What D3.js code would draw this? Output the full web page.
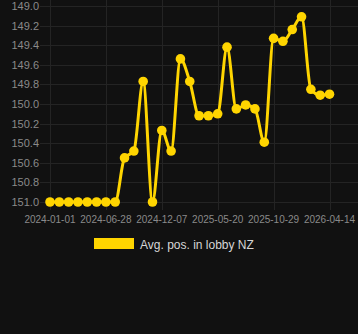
<!DOCTYPE html>
<html>
<head>
<meta charset="utf-8">
<script src="https://cdn.jsdelivr.net/npm/d3@7"></script>
<style>
  html, body { margin: 0; padding: 0; background: #111111; }
  svg { display: block; }
</style>
</head>
<body>
<svg id="chart"></svg>
<script>
// dates of each sample (only every 6th one is labelled on the axis)
const dates = [
    '2024-01-01', '2024-01-31', '2024-03-01', '2024-03-31', '2024-04-30', '2024-05-29',
    '2024-06-28', '2024-07-25', '2024-08-21', '2024-09-17', '2024-10-14', '2024-11-10',
    '2024-12-07', '2025-01-03', '2025-01-30', '2025-02-26', '2025-03-25', '2025-04-22',
    '2025-05-20', '2025-06-16', '2025-07-13', '2025-08-09', '2025-09-05', '2025-10-02',
    '2025-10-29', '2025-11-26', '2025-12-24', '2026-01-21', '2026-02-18', '2026-03-18',
    '2026-04-14'
];
const avgPos = [
    151.0, 151.0, 151.0, 151.0, 151.0, 151.0, 151.0, 151.0,
    150.55, 150.48, 149.77, 151.0, 150.27, 150.48, 149.54, 149.77,
    150.12, 150.12, 150.10, 149.42, 150.05, 150.01, 150.05, 150.39,
    149.33, 149.36, 149.24, 149.11, 149.85, 149.91, 149.90
];
const yTicks = [149.0, 149.2, 149.4, 149.6, 149.8, 150.0, 150.2, 150.4, 150.6, 150.8, 151.0];
const xTickLabels = ['2024-01-01', '2024-06-28', '2024-12-07', '2025-05-20', '2025-10-29', '2026-04-14'];
const seriesName = 'Avg. pos. in lobby NZ';

const width = 358, height = 334;
const plotLeft = 40, plotRight = 358, plotTop = 6, plotBottom = 202;
const yellow = '#ffd500';

const svg = d3.select('#chart')
    .attr('width', width)
    .attr('height', height);

svg.append('rect')
    .attr('width', width)
    .attr('height', height)
    .attr('fill', '#111111');

const x = d3.scalePoint()
    .domain(dates)
    .range([50, 329.5]);

// positions are reversed: best (smallest) value at the top
const y = d3.scaleLinear()
    .domain([149.0, 151.0])
    .range([plotTop, plotBottom]);

// horizontal grid + y labels
const yGrid = svg.append('g');
yGrid.selectAll('line')
    .data(yTicks)
    .join('line')
    .attr('x1', plotLeft)
    .attr('x2', plotRight)
    .attr('y1', d => Math.round(y(d)) + 0.5)
    .attr('y2', d => Math.round(y(d)) + 0.5)
    .attr('stroke', '#242424')
    .attr('stroke-width', 1);

yGrid.selectAll('text')
    .data(yTicks)
    .join('text')
    .attr('x', plotLeft - 1)
    .attr('y', d => y(d))
    .attr('text-anchor', 'end')
    .attr('dominant-baseline', 'central')
    .attr('fill', '#8a8a8a')
    .attr('font-family', 'Arial, "Liberation Sans", sans-serif')
    .attr('font-size', '11px')
    .text(d => d.toFixed(1));

// vertical grid + x labels
const xGrid = svg.append('g');
xGrid.selectAll('line')
    .data(xTickLabels)
    .join('line')
    .attr('x1', d => Math.round(x(d)) + 0.5)
    .attr('x2', d => Math.round(x(d)) + 0.5)
    .attr('y1', 0)
    .attr('y2', plotBottom + 8)
    .attr('stroke', '#242424')
    .attr('stroke-width', 1);

xGrid.selectAll('text')
    .data(xTickLabels)
    .join('text')
    .attr('x', d => x(d))
    .attr('y', 223)
    .attr('text-anchor', 'middle')
    .attr('fill', '#8a8a8a')
    .attr('font-family', 'Arial, "Liberation Sans", sans-serif')
    .attr('font-size', '10px')
    .text(d => d);

// series line
const points = dates.map((d, i) => ({date: d, value: avgPos[i]}));

const line = d3.line()
    .x(d => x(d.date))
    .y(d => y(d.value))
    .curve(d3.curveMonotoneX);

svg.append('path')
    .datum(points)
    .attr('d', line)
    .attr('fill', 'none')
    .attr('stroke', yellow)
    .attr('stroke-width', 3)
    .attr('stroke-linejoin', 'round');

svg.append('g')
    .selectAll('circle')
    .data(points)
    .join('circle')
    .attr('cx', d => x(d.date))
    .attr('cy', d => y(d.value))
    .attr('r', 4.8)
    .attr('fill', yellow);

// legend
const legend = svg.append('g')
    .attr('transform', 'translate(94, 238)');

legend.append('rect')
    .attr('width', 40)
    .attr('height', 11)
    .attr('fill', yellow);

legend.append('text')
    .attr('x', 46)
    .attr('y', 6.5)
    .attr('dominant-baseline', 'central')
    .attr('fill', '#d6d6d6')
    .attr('font-family', 'Arial, "Liberation Sans", sans-serif')
    .attr('font-size', '12px')
    .text(seriesName);
</script>
</body>
</html>
